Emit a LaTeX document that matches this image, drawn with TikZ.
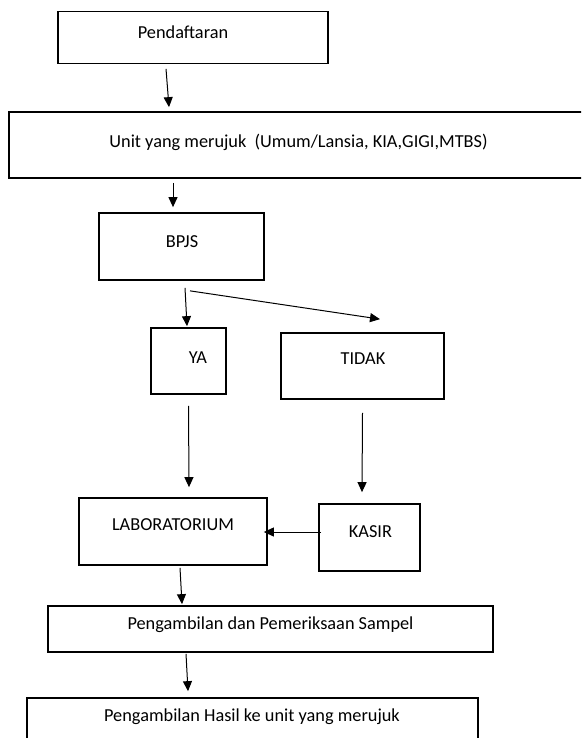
\documentclass[tikz,border=0pt]{standalone}
\usepackage{fontspec}
\setmainfont{Carlito}
\usetikzlibrary{arrows.meta}
\begin{document}
\begin{tikzpicture}[x=1pt,y=-1pt,
  box/.style={draw=black,line width=1.7pt,rectangle,inner sep=0pt,fill=none},
  txt/.style={inner sep=0pt,font=\fontsize{18.3}{22}\selectfont},
  arr/.style={draw=black,line width=1pt,-{Triangle[length=10pt,width=9pt]}}]
\clip (0,0) rectangle (581,738);
\useasboundingbox (0,0) rectangle (581,738);
\fill[white] (0,0) rectangle (581,738);
% boxes
\node[box,minimum width=270pt,minimum height=52pt] (pend) at (193,37.5) {};
\node[box,minimum width=583pt,minimum height=66pt] (unit) at (300.5,145) {};
\node[box,minimum width=165pt,minimum height=67pt] (bpjs) at (181.5,246.5) {};
\node[box,minimum width=75pt,minimum height=66pt] (ya) at (188.5,361) {};
\node[box,minimum width=163pt,minimum height=66pt] (tidak) at (362.5,366) {};
\node[box,minimum width=188pt,minimum height=67pt] (lab) at (173,531.5) {};
\node[box,minimum width=101pt,minimum height=67pt] (kasir) at (369.5,537.5) {};
\node[box,minimum width=445pt,minimum height=46pt] (peng) at (270.5,629) {};
\node[box,minimum width=451pt,minimum height=62pt] (hasil) at (252.5,729) {};
% texts
\node[txt] (pendt) at (183,32) {Pendaftaran};
\node[txt] (unitt) at (298.5,142) {Unit yang merujuk\ \ (Umum/Lansia, KIA,GIGI,MTBS)};
\node[txt] (bpjst) at (182,242) {BPJS};
\node[txt] (yat) at (198,358) {YA};
\node[txt] (tidakt) at (363,359) {TIDAK};
\node[txt] (labt) at (173,525) {LABORATORIUM};
\node[txt] (kasirt) at (370.5,532) {KASIR};
\node[txt] (pengt) at (270.5,625) {Pengambilan dan Pemeriksaan Sampel};
\node[txt] (hasilt) at (252,717) {Pengambilan Hasil ke unit yang merujuk};
% arrows
\draw[arr] ([xshift=-27pt,yshift=-4.5pt]pend.south) -- ([xshift=-131.5pt,yshift=4pt]unit.north);
\draw[arr] ([xshift=-127.5pt,yshift=-4pt]unit.south) -- ([xshift=-8.5pt,yshift=5pt]bpjs.north);
\draw[arr] ([xshift=3.5pt,yshift=-7pt]bpjs.south) -- ([xshift=-1.5pt,yshift=1pt]ya.north);
\draw[arr] ([xshift=8.5pt,yshift=-10pt]bpjs.south) -- ([xshift=17.5pt,yshift=13pt]tidak.north);
\draw[arr] ([yshift=-11pt]ya.south) -- ([xshift=16pt,yshift=10pt]lab.north);
\draw[arr] ([yshift=-13pt]tidak.south) -- ([xshift=-7.5pt,yshift=11pt]kasir.north);
\draw[arr] ([xshift=3pt,yshift=5.5pt]kasir.west) -- ([xshift=-4pt,yshift=-0.5pt]lab.east);
\draw[arr] ([xshift=7pt,yshift=-2pt]lab.south) -- ([xshift=-88.5pt,yshift=1pt]peng.north);
\draw[arr] ([xshift=-84.5pt,yshift=-1pt]peng.south) -- ([xshift=-64.5pt,yshift=6pt]hasil.north);
\end{tikzpicture}
\end{document}
